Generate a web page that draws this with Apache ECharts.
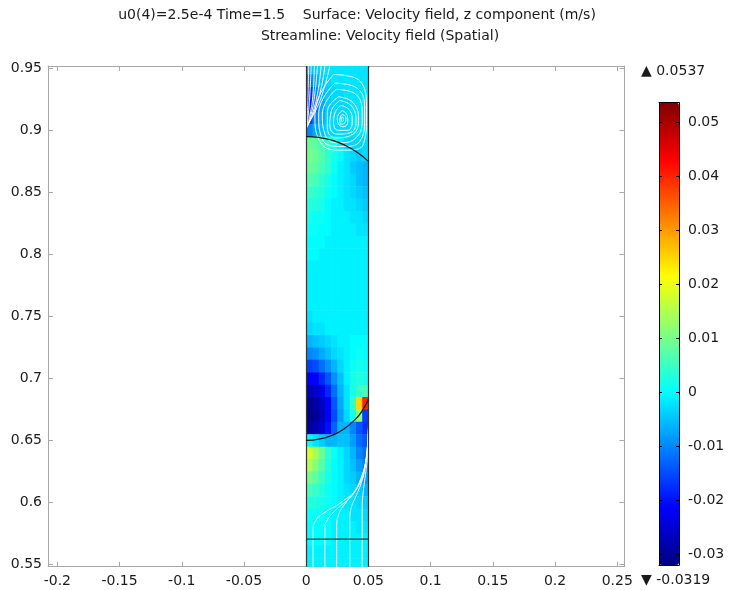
<!DOCTYPE html>
<html><head><meta charset="utf-8">
<script src="https://cdn.jsdelivr.net/npm/echarts@6/dist/echarts.min.js"></script>
<style>html,body{margin:0;padding:0;background:#fff}#c{width:731px;height:590px}</style>
</head><body><div id="c"></div>
<script>
// ---- tick labels ----
const xTicks = [-0.2,-0.15,-0.1,-0.05,0,0.05,0.1,0.15,0.2,0.25];
const yTicks = [0.55,0.6,0.65,0.7,0.75,0.8,0.85,0.9,0.95];
const cbTicks = [-0.03,-0.02,-0.01,0,0.01,0.02,0.03,0.04,0.05];
const cbRange = [-0.0319, 0.0537];
const xRange = [-0.2075, 0.2558];
const yRange = [0.5482, 0.9519];
const titleLine1 = 'u0(4)=2.5e-4 Time=1.5    Surface: Velocity field, z component (m/s)';
const titleLine2 = 'Streamline: Velocity field (Spatial)';

// ---- surface field: cell centres and z-velocity (x 1e-3 m/s) ----
const colX = [0.0025,0.0075,0.0125,0.0175,0.0225,0.0275,0.0325,0.0375,0.0425,0.0475];
const rowY = [0.95,0.94,0.93,0.92,0.91,0.90,0.89,0.88,0.87,0.86,0.85,0.84,0.83,0.82,0.81,0.80,
              0.79,0.78,0.77,0.76,0.75,0.74,0.73,0.72,0.71,0.70,0.69,0.68,0.67,0.66,0.65,0.64,
              0.63,0.62,0.61,0.60,0.59,0.58,0.57,0.56,0.55];
const fieldRows = [
 [-6,-4,-3,-2,-2,-2,-2,-2,-2,-2],
 [-12,-7,-4,-3,-2,-2,-2,-2,-2,-2],
 [-17,-10,-6,-4,-3,-3,-2,-2,-2,-2],
 [-19,-12,-7,-4,-3,-3,-3,-2,-2,-2],
 [-16,-10,-6,-4,-3,-3,-3,-2,-2,-2],
 [-10,-7,-5,-3,-3,-3,-3,-2,-2,-2],
 [9,8,6,4,2,-1,-3,-3,-3,-3],
 [10,9,7,4,2,0,-2,-3,-4,-3],
 [9,8,6,4,1,-1,-2,-4,-5,-6],
 [7,6,4,2,0,-1,-2,-3,-5,-6],
 [5,4,3,1,0,-1,-2,-3,-4,-5],
 [3,3,2,0,-1,-1,-2,-2,-3,-4],
 [2,1,1,0,-1,-1,-1,-2,-2,-3],
 [1,1,0,0,-1,-1,-1,-1,-2,-2],
 [0,0,0,-1,-1,-1,-1,-1,-1,-1],
 [0,0,-1,-1,-1,-1,-1,-1,-1,-1],
 [-1,-1,-1,-1,-1,-1,-1,-1,-1,-1],
 [-1,-1,-1,-1,-1,-1,-1,-1,-1,-1],
 [-1,-1,-1,-1,-1,-1,-1,-1,-1,-1],
 [-1,-1,-1,-1,-1,-1,-1,-1,-1,-1],
 [-2,-1,-1,-1,-1,-1,-1,-1,-1,-1],
 [-3,-2,-2,-1,-1,-1,-1,-1,-1,-1],
 [-6,-5,-4,-3,-2,-1,-1,0,0,0],
 [-10,-9,-7,-5,-3,-2,-1,0,1,0],
 [-16,-15,-12,-9,-6,-3,-1,1,2,1],
 [-22,-21,-18,-14,-9,-5,-1,2,3,2],
 [-27,-26,-23,-18,-12,-6,-2,2,5,6],
 [-30,-29,-26,-21,-14,-7,-2,4,25,40],
 [-31,-30,-27,-22,-15,-8,-3,2,12,-16],
 [-29,-28,-25,-20,-13,-6,-6,-10,-14,-17],
 [0,-2,-4,-6,-6,-5,-5,-8,-12,-14],
 [18,14,9,4,1,-1,-3,-6,-10,-12],
 [15,11,7,3,0,-1,-3,-5,-8,-10],
 [10,8,5,2,0,-1,-3,-4,-6,-8],
 [6,5,3,1,0,-1,-2,-3,-4,-6],
 [3,3,2,1,0,-1,-2,-2,-3,-4],
 [1,1,1,0,-1,-1,-1,-2,-2,-3],
 [0,0,0,0,-1,-1,-1,-1,-2,-2],
 [0,0,0,0,-1,-1,-1,-1,-1,-1],
 [-1,-1,-1,-1,-1,-1,-1,-1,-1,-1],
 [-1,-1,-1,-1,-1,-1,-1,-1,-1,-1]
];

// ---- geometry ----
const wallX = [0, 0.05];
const upperInterface = [[0,0.895],[0.01,0.8943],[0.02,0.8922],[0.03,0.8885],[0.04,0.883],[0.05,0.875]];
const lowerInterface = [[0,0.650],[0.01,0.651],[0.02,0.6538],[0.03,0.659],[0.04,0.6676],[0.045,0.6739],[0.05,0.683]];
const inletLine = [[0,0.5704],[0.05,0.5704]];

// ---- streamlines ----
const streamTop = [
 [[0.022,0.945],[0.043,0.940],[0.0485,0.915],[0.046,0.889],[0.030,0.884],[0.011,0.891],[0.007,0.913],[0.022,0.945]],
 [[0.023,0.938],[0.041,0.934],[0.047,0.913],[0.043,0.891],[0.028,0.887],[0.013,0.893],[0.010,0.913],[0.023,0.938]],
 [[0.024,0.933],[0.040,0.929],[0.045,0.911],[0.040,0.894],[0.026,0.890],[0.015,0.897],[0.013,0.913],[0.024,0.933]],
 [[0.026,0.927],[0.038,0.922],[0.042,0.908],[0.036,0.896],[0.024,0.894],[0.017,0.902],[0.017,0.915],[0.026,0.927]],
 [[0.027,0.924],[0.037,0.919],[0.040,0.907],[0.035,0.898],[0.025,0.897],[0.019,0.904],[0.020,0.915],[0.027,0.924]],
 [[0.028,0.920],[0.035,0.916],[0.037,0.907],[0.033,0.900],[0.026,0.900],[0.022,0.906],[0.023,0.914],[0.028,0.920]],
 [[0.029,0.916],[0.033,0.912],[0.0335,0.907],[0.030,0.903],[0.026,0.905],[0.025,0.910],[0.029,0.916]],
 [[0.029,0.913],[0.032,0.910],[0.031,0.906],[0.028,0.905],[0.027,0.909],[0.029,0.913]],
 [[0.029,0.911],[0.030,0.909],[0.029,0.907],[0.028,0.909],[0.029,0.911]],
 [[0.002,0.952],[0.0015,0.93],[0.0008,0.91],[0.0003,0.902]],
 [[0.004,0.952],[0.003,0.93],[0.0015,0.911],[0.0004,0.902]],
 [[0.0065,0.952],[0.0055,0.93],[0.003,0.912],[0.0007,0.903]],
 [[0.009,0.952],[0.007,0.93],[0.004,0.913],[0.001,0.903]],
 [[0.012,0.952],[0.0095,0.932],[0.0055,0.915],[0.0013,0.904]],
 [[0.015,0.952],[0.012,0.934],[0.007,0.917],[0.0017,0.905]],
 [[0.019,0.952],[0.015,0.936],[0.009,0.919],[0.002,0.906]]
];
const streamBottom = [
 [[0.0055,0.548],[0.0055,0.578],[0.008,0.586],[0.015,0.592],[0.028,0.600],[0.041,0.612],[0.047,0.628],[0.0495,0.650]],
 [[0.015,0.548],[0.015,0.578],[0.017,0.586],[0.025,0.595],[0.036,0.605],[0.043,0.617],[0.048,0.634],[0.0497,0.655]],
 [[0.0245,0.548],[0.0245,0.580],[0.026,0.590],[0.032,0.600],[0.040,0.610],[0.045,0.622],[0.0485,0.638],[0.0498,0.658]],
 [[0.035,0.548],[0.035,0.585],[0.036,0.595],[0.040,0.605],[0.044,0.615],[0.047,0.626],[0.049,0.642],[0.0499,0.66]],
 [[0.045,0.548],[0.045,0.595],[0.046,0.610],[0.048,0.625],[0.0495,0.640],[0.05,0.662]]
];

const jet = ['#000080','#0000ff','#0080ff','#00ffff','#80ff80','#ffff00','#ff8000','#ff0000','#800000'];
const FONT = 'DejaVu Sans';
const fmt = v => String(parseFloat(Number(v).toFixed(4)));

const fieldData = [];
rowY.forEach((y, i) => colX.forEach((x, j) => fieldData.push([x, y, fieldRows[i][j] / 1000])));
const dx = colX[1] - colX[0];
const dy = rowY[0] - rowY[1];

const axisGray = '#a8a8a8';
function mainAxis(pos, range, ticks, showLabel) {
  return {
    type: 'value', gridIndex: 0, position: pos, min: range[0], max: range[1],
    axisLine: { show: true, onZero: false, lineStyle: { color: axisGray, width: 1 } },
    axisTick: { show: true, inside: true, length: 5, customValues: ticks, lineStyle: { color: axisGray } },
    axisLabel: { show: showLabel, customValues: ticks, formatter: fmt, color: '#1a1a1a',
                 fontFamily: FONT, fontSize: 14, margin: pos === 'bottom' ? 8 : 6 },
    splitLine: { show: false }
  };
}
function cbAxis(type, pos, showLabel) {
  const isY = type === 'y';
  return {
    type: 'value', gridIndex: 1, position: pos, z: 10,
    min: isY ? cbRange[0] : 0, max: isY ? cbRange[1] : 1,
    axisLine: { show: true, onZero: false, lineStyle: { color: '#000', width: 1 } },
    axisTick: { show: isY, inside: true, length: 3, customValues: cbTicks, lineStyle: { color: '#000' } },
    axisLabel: { show: showLabel, customValues: cbTicks, formatter: fmt, color: '#1a1a1a',
                 fontFamily: FONT, fontSize: 14, margin: 9 },
    splitLine: { show: false }
  };
}

const lineSeries = (pts, color, width, z, smooth) => ({
  type: 'line', data: pts, smooth: smooth, showSymbol: false, symbol: 'none', silent: true,
  xAxisIndex: 0, yAxisIndex: 0, z: z, clip: true,
  lineStyle: { color: color, width: width }
});

const series = [{
  type: 'custom', xAxisIndex: 0, yAxisIndex: 0, clip: true, z: 1, silent: true,
  data: fieldData,
  encode: { x: 0, y: 1 },
  renderItem: (params, api) => {
    const x = api.value(0), y = api.value(1);
    const p1 = api.coord([x - dx / 2, y + dy / 2]);
    const p2 = api.coord([x + dx / 2, y - dy / 2]);
    return { type: 'rect',
      shape: { x: p1[0], y: p1[1], width: p2[0] - p1[0] + 0.6, height: p2[1] - p1[1] + 0.6 },
      style: { fill: api.visual('color') } };
  }
}];
streamTop.concat(streamBottom).forEach(s => series.push(lineSeries(s, 'rgba(255,255,255,0.95)', 1, 3, 0.5)));
series.push(lineSeries(upperInterface, '#111', 1.2, 5, true));
series.push(lineSeries(lowerInterface, '#111', 1.2, 5, true));
series.push(lineSeries(inletLine, '#1d3b3b', 1.2, 5, false));
series.push({
  type: 'line', data: [], xAxisIndex: 0, yAxisIndex: 0, z: 6, silent: true,
  markLine: { silent: true, symbol: 'none', label: { show: false },
    lineStyle: { color: '#333', width: 1.2, type: 'solid' },
    data: wallX.map(v => ({ xAxis: v })) }
});

const option = {
  animation: false,
  backgroundColor: '#fff',
  grid: [
    { left: 48, right: 106.5, top: 66, bottom: 23.3 },
    { left: 659, width: 20, top: 102.7, height: 462.3 }
  ],
  xAxis: [
    mainAxis('bottom', xRange, xTicks, true),
    mainAxis('top', xRange, xTicks, false),
    cbAxis('x', 'bottom', false),
    cbAxis('x', 'top', false)
  ],
  yAxis: [
    mainAxis('left', yRange, yTicks, true),
    mainAxis('right', yRange, yTicks, false),
    cbAxis('y', 'left', false),
    cbAxis('y', 'right', true)
  ],
  visualMap: {
    type: 'continuous', min: cbRange[0], max: cbRange[1], dimension: 2, seriesIndex: 0,
    calculable: false, hoverLink: false, text: null, showLabel: false,
    left: 659, top: 102.7, itemWidth: 20, itemHeight: 462.3, padding: 0, z: 4,
    inRange: { color: jet }
  },
  graphic: [
    { type: 'text', x: 357, y: 15, style: { text: titleLine1, font: '14px ' + FONT, fill: '#1a1a1a', textAlign: 'center', textVerticalAlign: 'middle' } },
    { type: 'text', x: 380, y: 36, style: { text: titleLine2, font: '14px ' + FONT, fill: '#1a1a1a', textAlign: 'center', textVerticalAlign: 'middle' } },
    { type: 'text', x: 641, y: 71, style: { text: '▲ ' + fmt(cbRange[1]), font: '14px ' + FONT, fill: '#1a1a1a', textAlign: 'left', textVerticalAlign: 'middle' } },
    { type: 'text', x: 641, y: 580, style: { text: '▼ ' + fmt(cbRange[0]), font: '14px ' + FONT, fill: '#1a1a1a', textAlign: 'left', textVerticalAlign: 'middle' } }
  ],
  series: series
};
const chart = echarts.init(document.getElementById('c'), null, { renderer: 'canvas' });
chart.setOption(option);
</script></body></html>
